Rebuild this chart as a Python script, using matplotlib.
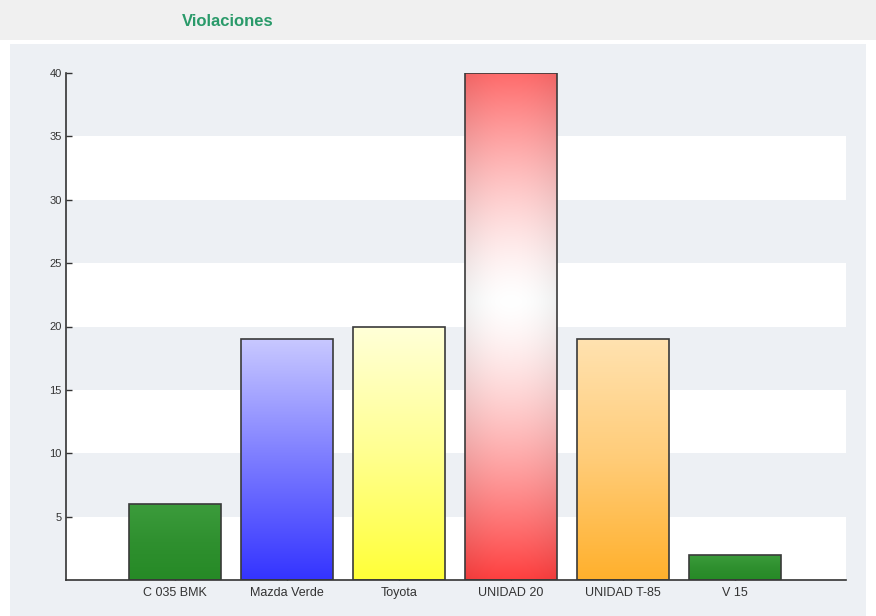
import numpy as np
import matplotlib
matplotlib.use("Agg")
import matplotlib.pyplot as plt
from matplotlib.patches import Rectangle
from matplotlib.colors import to_rgb

categorias = ["C 035 BMK", "Mazda Verde", "Toyota", "UNIDAD 20", "UNIDAD T-85", "V 15"]
violaciones = [6, 19, 20, 40, 19, 2]
# (color arriba, color medio, color abajo)
degradados = [
    ("#3c9c3c", "#2f902f", "#268a26"),
    ("#c8c8ff", "#7c7cff", "#3434ff"),
    ("#ffffd8", "#ffff90", "#ffff38"),
    ("#ff3c3c", "#ffffff", "#ff4040"),
    ("#ffe2b0", "#ffcc78", "#ffb02c"),
    ("#3c9c3c", "#2f902f", "#268a26"),
]
yticks = [5, 10, 15, 20, 25, 30, 35, 40]

plt.rcParams['font.family'] = ['Liberation Sans', 'DejaVu Sans']

fig = plt.figure(figsize=(8.76, 6.16), dpi=100)
fig.patch.set_facecolor("white")

# fondo tipo panel
fig.add_artist(Rectangle((0, 1 - 40 / 616), 1, 40 / 616, transform=fig.transFigure,
                         facecolor="#f0f0f0", edgecolor="none", zorder=0))
fig.add_artist(Rectangle((10 / 876, 0), 856 / 876, (616 - 44) / 616, transform=fig.transFigure,
                         facecolor="#edf0f4", edgecolor="none", zorder=0))
fig.text(228 / 876, 1 - 22 / 616, "Violaciones", color="#2a9a6a", fontsize=12,
         fontweight="bold", ha="center", va="center")

ax = fig.add_axes([66 / 876, 36 / 616, 780 / 876, (580 - 73) / 616])
ax.set_facecolor("#edf0f4")
ax.patch.set_alpha(0)

# bandas blancas
for y0 in range(0, 40, 10):
    ax.axhspan(y0, y0 + 5, color="white", zorder=0.5, lw=0)

x = np.arange(len(categorias))
barras = ax.bar(x, violaciones, width=0.82, color="none", zorder=2)

for barra, (c_top, c_mid, c_bot), v in zip(barras, degradados, violaciones):
    x0, w, h = barra.get_x(), barra.get_width(), barra.get_height()
    n = 200
    t = np.linspace(0, 1, n)[:, None]  # 0 arriba, 1 abajo
    top, mid, bot = np.array(to_rgb(c_top)), np.array(to_rgb(c_mid)), np.array(to_rgb(c_bot))
    if c_mid == "#ffffff":
        centro = 0.45
        s = np.clip(np.abs(t - centro) / max(centro, 1 - centro), 0, 1)
        s = s ** 1.4
        col = mid * (1 - s[..., None]) + np.where(t[..., None] < centro, top, bot) * s[..., None]
        col = np.repeat(col, 40, axis=1)
        xx = np.linspace(-1, 1, 40)[None, :, None]
        col = np.clip(col * (1 - 0.06 * xx ** 2), 0, 1)
    else:
        a = np.clip(t * 2, 0, 1)[..., None]
        b = np.clip(t * 2 - 1, 0, 1)[..., None]
        col = np.where(t[..., None] < 0.5, top * (1 - a) + mid * a, mid * (1 - b) + bot * b)
        col = np.repeat(col, 40, axis=1)
    im = ax.imshow(col, extent=(x0, x0 + w, 0, h), aspect="auto", zorder=2, interpolation="bilinear")
    im.set_clip_path(barra)

ax.bar(x, violaciones, width=0.82, fill=False, edgecolor="#3a3a3a", linewidth=1.2, zorder=3)

ax.set_xlim(-0.97, 5.99)
ax.set_ylim(0, 40)
ax.set_aspect("auto")

ax.set_xticks(x)
ax.set_xticklabels(categorias, fontsize=9, color="#333333")
ax.set_yticks(yticks)
ax.set_yticklabels([str(v) for v in yticks], fontsize=8, color="#333333")
ax.tick_params(axis="both", direction="in", length=4, color="#333333", width=1, zorder=4)
ax.tick_params(axis="x", pad=5)
ax.tick_params(axis="y", pad=3)

for lado in ["top", "right"]:
    ax.spines[lado].set_visible(False)
for lado in ["left", "bottom"]:
    ax.spines[lado].set_color("#333333")
    ax.spines[lado].set_linewidth(1.2)

fig.savefig("out.png", dpi=100)
